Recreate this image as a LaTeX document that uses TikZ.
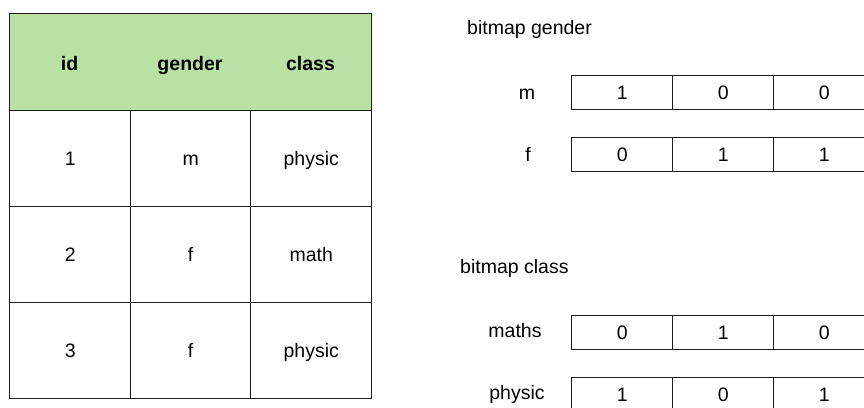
\documentclass[tikz,border=0pt]{standalone}
\usepackage{fontspec}
\setmainfont{Liberation Sans}
\definecolor{hdr}{HTML}{B9E0A5}
\definecolor{ln}{HTML}{1E1E1E}
\begin{document}
\begin{tikzpicture}[x=1pt,y=-1pt,
  fnt/.style={font=\fontsize{19.5}{22}\selectfont, text height=14pt, text depth=0pt},
  txt/.style={fnt, inner sep=0pt, text=black},
  btxt/.style={fnt, font=\fontsize{19.5}{22}\selectfont\bfseries, inner sep=0pt, text=black},
  tcell/.style={fnt, draw=ln, line width=1.4pt, minimum width=#1, minimum height=96pt, inner sep=0pt, anchor=north west},
  bcell/.style={fnt, draw=ln, line width=1.4pt, minimum width=101pt, minimum height=34pt, inner sep=0pt, anchor=north west}
]
\useasboundingbox (0,0) rectangle (864,407);
\clip (0,0) rectangle (864,407);
% header
\node[draw=ln, fill=hdr, line width=1.4pt, minimum width=362pt, minimum height=97pt, inner sep=0pt, anchor=north west] (hdr) at (9,13) {};
\node[btxt] (hid) at (69.5,63) {id};
\node[btxt] (hgender) at (190,63) {gender};
\node[btxt] (hclass) at (310.5,63) {class};
% body rows
\node[tcell=121pt] (r1c1) at (9,110) {1};
\node[tcell=120pt] (r1c2) at (130,110) {m};
\node[tcell=121pt] (r1c3) at (250,110) {physic};
\node[tcell=121pt] (r2c1) at (9,206) {2};
\node[tcell=120pt] (r2c2) at (130,206) {f};
\node[tcell=121pt] (r2c3) at (250,206) {math};
\node[tcell=121pt] (r3c1) at (9,302) {3};
\node[tcell=120pt] (r3c2) at (130,302) {f};
\node[tcell=121pt] (r3c3) at (250,302) {physic};
% bitmap gender
\node[txt, anchor=west] (tg) at (467,27) {bitmap gender};
\node[txt] (lm) at (527,92) {m};
\node[txt] (lf) at (528,154) {f};
\node[bcell] (m1) at (571,75) {1};
\node[bcell] (m2) at (672,75) {0};
\node[bcell] (m3) at (773,75) {0};
\node[bcell] (f1) at (571,137) {0};
\node[bcell] (f2) at (672,137) {1};
\node[bcell] (f3) at (773,137) {1};
% bitmap class
\node[txt, anchor=west] (tc) at (460,266) {bitmap class};
\node[txt] (lma) at (515,330) {maths};
\node[txt] (lph) at (517,392) {physic};
\node[bcell] (a1) at (571,315) {0};
\node[bcell] (a2) at (672,315) {1};
\node[bcell] (a3) at (773,315) {0};
\node[bcell] (p1) at (571,377) {1};
\node[bcell] (p2) at (672,377) {0};
\node[bcell] (p3) at (773,377) {1};
\end{tikzpicture}
\end{document}
